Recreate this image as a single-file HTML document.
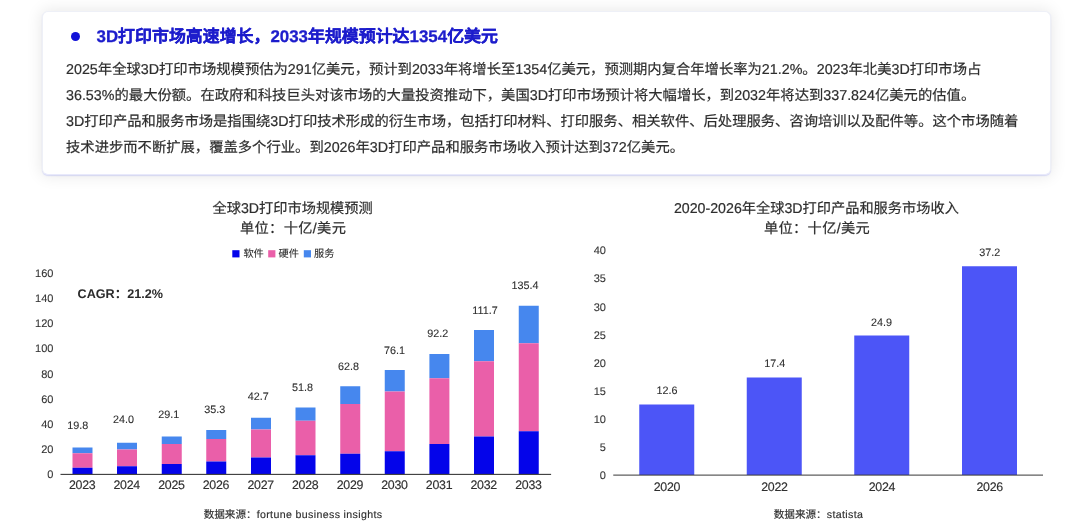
<!DOCTYPE html>
<html lang="zh-CN">
<head>
<meta charset="utf-8">
<title>3D打印市场</title>
<style>
html,body{margin:0;padding:0;}
body{width:1080px;height:522px;position:relative;overflow:hidden;background:#fff;
 font-family:"Liberation Sans",sans-serif;color:#333;}
.card{position:absolute;left:42px;top:11px;width:1007px;height:161.5px;border:1px solid #eef0f7;border-bottom-color:#e8e9fb;
 border-radius:6px;background:#fff;box-shadow:0 0 16px 1px rgba(0,0,0,0.095),0 1.2px 1.2px -0.3px rgba(170,175,250,0.38);}
.dot{position:absolute;left:70.6px;top:32.3px;width:9.2px;height:9.2px;border-radius:50%;background:#1212d8;}
svg{position:absolute;left:0;top:0;}
.txt{position:absolute;left:0;top:0;width:1080px;height:522px;will-change:transform;}
.t{position:absolute;white-space:nowrap;line-height:1.2;text-rendering:geometricPrecision;}
.jl{text-align:justify;text-align-last:justify;}
.hd{font-size:16.9px;font-weight:bold;color:#1d1dcc;-webkit-text-stroke:0.3px #1d1dcc;}
.bd{font-size:14.3px;color:#2e2e2e;-webkit-text-stroke:0.2px #2e2e2e;}
.ct{font-size:14.2px;color:#2e2e2e;-webkit-text-stroke:0.2px #2e2e2e;}
.lg{font-size:10.2px;color:#2e2e2e;-webkit-text-stroke:0.12px #2e2e2e;}
.yl{font-size:11px;color:#333;-webkit-text-stroke:0.1px #333;}
.xl{font-size:12.4px;color:#303030;letter-spacing:-0.25px;-webkit-text-stroke:0.15px #303030;}
.vl{font-size:10.8px;color:#2e2e2e;-webkit-text-stroke:0.1px #2e2e2e;}
.cagr{font-size:12.6px;font-weight:bold;color:#2b2b2b;}
.src{font-size:10.6px;color:#2e2e2e;-webkit-text-stroke:0.15px #2e2e2e;}
.ls{letter-spacing:0.37px;}
</style>
</head>
<body>
<div class="card"></div>
<div class="dot"></div>
<svg width="1080" height="522" viewBox="0 0 1080 522">
<rect x="72.5" y="447.5" width="20" height="5.75" fill="#4687ee"/>
<rect x="72.5" y="453.25" width="20" height="14.5" fill="#ea5fa9"/>
<rect x="72.5" y="467.75" width="20" height="6.25" fill="#0404ea"/>
<rect x="117" y="442.75" width="20" height="6.75" fill="#4687ee"/>
<rect x="117" y="449.5" width="20" height="16.75" fill="#ea5fa9"/>
<rect x="117" y="466.25" width="20" height="7.75" fill="#0404ea"/>
<rect x="161.75" y="436.5" width="20" height="7.5" fill="#4687ee"/>
<rect x="161.75" y="444" width="20" height="20" fill="#ea5fa9"/>
<rect x="161.75" y="464" width="20" height="10" fill="#0404ea"/>
<rect x="206.25" y="430" width="20" height="9" fill="#4687ee"/>
<rect x="206.25" y="439" width="20" height="22.5" fill="#ea5fa9"/>
<rect x="206.25" y="461.5" width="20" height="12.5" fill="#0404ea"/>
<rect x="251" y="417.75" width="20" height="11.75" fill="#4687ee"/>
<rect x="251" y="429.5" width="20" height="28" fill="#ea5fa9"/>
<rect x="251" y="457.5" width="20" height="16.5" fill="#0404ea"/>
<rect x="295.5" y="407.5" width="20" height="13.25" fill="#4687ee"/>
<rect x="295.5" y="420.75" width="20" height="34.5" fill="#ea5fa9"/>
<rect x="295.5" y="455.25" width="20" height="18.75" fill="#0404ea"/>
<rect x="340.25" y="386.25" width="20" height="17.75" fill="#4687ee"/>
<rect x="340.25" y="404" width="20" height="49.75" fill="#ea5fa9"/>
<rect x="340.25" y="453.75" width="20" height="20.25" fill="#0404ea"/>
<rect x="384.75" y="370" width="20" height="21.5" fill="#4687ee"/>
<rect x="384.75" y="391.5" width="20" height="59.75" fill="#ea5fa9"/>
<rect x="384.75" y="451.25" width="20" height="22.75" fill="#0404ea"/>
<rect x="429.4" y="354" width="20" height="24.25" fill="#4687ee"/>
<rect x="429.4" y="378.25" width="20" height="65.75" fill="#ea5fa9"/>
<rect x="429.4" y="444" width="20" height="30" fill="#0404ea"/>
<rect x="474" y="330" width="20" height="31.25" fill="#4687ee"/>
<rect x="474" y="361.25" width="20" height="75.25" fill="#ea5fa9"/>
<rect x="474" y="436.5" width="20" height="37.5" fill="#0404ea"/>
<rect x="518.75" y="305.75" width="20" height="37.5" fill="#4687ee"/>
<rect x="518.75" y="343.25" width="20" height="88" fill="#ea5fa9"/>
<rect x="518.75" y="431.25" width="20" height="42.75" fill="#0404ea"/>
<rect x="639.25" y="404.5" width="55" height="70.5" fill="#4c55f7"/>
<rect x="746.75" y="377.5" width="55" height="97.5" fill="#4c55f7"/>
<rect x="854.25" y="335.5" width="55" height="139.5" fill="#4c55f7"/>
<rect x="962" y="266.25" width="55" height="208.75" fill="#4c55f7"/>
<rect x="60.5" y="473.85" width="490.6" height="1.1" fill="#3a3a3a"/>
<rect x="613.25" y="474.6" width="429.75" height="1" fill="#383838"/>
<rect x="232.3" y="250.2" width="7.2" height="7.2" fill="#0404ea"/>
<rect x="268.2" y="250.2" width="7.2" height="7.2" fill="#ea5fa9"/>
<rect x="303.8" y="250.2" width="7.2" height="7.2" fill="#4687ee"/>
</svg>
<div class="txt">
<div class="t yl" style="top:275px;right:1026.6px;transform:translateY(-50%);">160</div>
<div class="t yl" style="top:300px;right:1026.6px;transform:translateY(-50%);">140</div>
<div class="t yl" style="top:325.1px;right:1026.6px;transform:translateY(-50%);">120</div>
<div class="t yl" style="top:350.4px;right:1026.6px;transform:translateY(-50%);">100</div>
<div class="t yl" style="top:375.5px;right:1026.6px;transform:translateY(-50%);">80</div>
<div class="t yl" style="top:400.5px;right:1026.6px;transform:translateY(-50%);">60</div>
<div class="t yl" style="top:425.75px;right:1026.6px;transform:translateY(-50%);">40</div>
<div class="t yl" style="top:451.25px;right:1026.6px;transform:translateY(-50%);">20</div>
<div class="t yl" style="top:476.25px;right:1026.6px;transform:translateY(-50%);">0</div>
<div class="t yl" style="top:252.4px;right:474.1px;transform:translateY(-50%);">40</div>
<div class="t yl" style="top:280.4px;right:474.1px;transform:translateY(-50%);">35</div>
<div class="t yl" style="top:308.6px;right:474.1px;transform:translateY(-50%);">30</div>
<div class="t yl" style="top:336.6px;right:474.1px;transform:translateY(-50%);">25</div>
<div class="t yl" style="top:364.9px;right:474.1px;transform:translateY(-50%);">20</div>
<div class="t yl" style="top:392.9px;right:474.1px;transform:translateY(-50%);">15</div>
<div class="t yl" style="top:421.1px;right:474.1px;transform:translateY(-50%);">10</div>
<div class="t yl" style="top:449px;right:474.1px;transform:translateY(-50%);">5</div>
<div class="t yl" style="top:476.75px;right:474.1px;transform:translateY(-50%);">0</div>
<div class="t vl" style="top:425.5px;left:77.75px;transform:translate(-50%,-50%);">19.8</div>
<div class="t vl" style="top:420.1px;left:123.4px;transform:translate(-50%,-50%);">24.0</div>
<div class="t vl" style="top:415.1px;left:168.75px;transform:translate(-50%,-50%);">29.1</div>
<div class="t vl" style="top:409.6px;left:214.75px;transform:translate(-50%,-50%);">35.3</div>
<div class="t vl" style="top:397.25px;left:258.2px;transform:translate(-50%,-50%);">42.7</div>
<div class="t vl" style="top:387.6px;left:302.5px;transform:translate(-50%,-50%);">51.8</div>
<div class="t vl" style="top:367.4px;left:348.4px;transform:translate(-50%,-50%);">62.8</div>
<div class="t vl" style="top:351px;left:394.4px;transform:translate(-50%,-50%);">76.1</div>
<div class="t vl" style="top:334px;left:437.75px;transform:translate(-50%,-50%);">92.2</div>
<div class="t vl" style="top:311.4px;left:485px;transform:translate(-50%,-50%);">111.7</div>
<div class="t vl" style="top:285.5px;left:525px;transform:translate(-50%,-50%);">135.4</div>
<div class="t vl" style="top:391.4px;left:667px;transform:translate(-50%,-50%);">12.6</div>
<div class="t vl" style="top:364.4px;left:774.75px;transform:translate(-50%,-50%);">17.4</div>
<div class="t vl" style="top:322.6px;left:881.6px;transform:translate(-50%,-50%);">24.9</div>
<div class="t vl" style="top:253.1px;left:989.75px;transform:translate(-50%,-50%);">37.2</div>
<div class="t xl" style="top:484.75px;left:82.2px;transform:translate(-50%,-50%);">2023</div>
<div class="t xl" style="top:484.75px;left:126.7px;transform:translate(-50%,-50%);">2024</div>
<div class="t xl" style="top:484.75px;left:171.45px;transform:translate(-50%,-50%);">2025</div>
<div class="t xl" style="top:484.75px;left:215.95px;transform:translate(-50%,-50%);">2026</div>
<div class="t xl" style="top:484.75px;left:260.7px;transform:translate(-50%,-50%);">2027</div>
<div class="t xl" style="top:484.75px;left:305.2px;transform:translate(-50%,-50%);">2028</div>
<div class="t xl" style="top:484.75px;left:349.95px;transform:translate(-50%,-50%);">2029</div>
<div class="t xl" style="top:484.75px;left:394.45px;transform:translate(-50%,-50%);">2030</div>
<div class="t xl" style="top:484.75px;left:439.1px;transform:translate(-50%,-50%);">2031</div>
<div class="t xl" style="top:484.75px;left:483.7px;transform:translate(-50%,-50%);">2032</div>
<div class="t xl" style="top:484.75px;left:528.45px;transform:translate(-50%,-50%);">2033</div>
<div class="t xl" style="top:487.4px;left:666.95px;transform:translate(-50%,-50%);">2020</div>
<div class="t xl" style="top:487.4px;left:774.45px;transform:translate(-50%,-50%);">2022</div>
<div class="t xl" style="top:487.4px;left:881.95px;transform:translate(-50%,-50%);">2024</div>
<div class="t xl" style="top:487.4px;left:989.7px;transform:translate(-50%,-50%);">2026</div>
<div class="t ct jl" style="top:209.55px;left:292.6px;transform:translate(-50%,-50%);width:160.3px;">全球3D打印市场规模预测</div>
<div class="t ct jl" style="top:230.3px;left:293.1px;transform:translate(-50%,-50%);letter-spacing:0.35px;width:106.2px;">单位：十亿/美元</div>
<div class="t ct jl" style="top:209.55px;left:816.4px;transform:translate(-50%,-50%);width:284.9px;">2020-2026年全球3D打印产品和服务市场收入</div>
<div class="t ct jl" style="top:230.3px;left:817px;transform:translate(-50%,-50%);letter-spacing:0.35px;width:106.2px;">单位：十亿/美元</div>
<div class="t lg" style="top:255.1px;left:243.4px;transform:translateY(-50%);">软件</div>
<div class="t lg" style="top:255.1px;left:278.6px;transform:translateY(-50%);">硬件</div>
<div class="t lg" style="top:255.1px;left:314.1px;transform:translateY(-50%);">服务</div>
<div class="t cagr" style="top:295.3px;left:77.6px;transform:translateY(-50%);">CAGR：21.2%</div>
<div class="t src" style="top:514.6px;left:293.1px;transform:translate(-50%,-50%);">数据来源：<span class="ls">fortune business insights</span></div>
<div class="t src" style="top:514.6px;left:818.5px;transform:translate(-50%,-50%);">数据来源：<span class="ls">statista</span></div>
<div class="t bd jl" style="top:70.5px;left:66px;transform:translateY(-50%);width:915.3px;">2025年全球3D打印市场规模预估为291亿美元，预计到2033年将增长至1354亿美元，预测期内复合年增长率为21.2%。2023年北美3D打印市场占</div>
<div class="t bd jl" style="top:97.15px;left:66px;transform:translateY(-50%);width:909.2px;">36.53%的最大份额。在政府和科技巨头对该市场的大量投资推动下，美国3D打印市场预计将大幅增长，到2032年将达到337.824亿美元的估值。</div>
<div class="t bd jl" style="top:122.8px;left:66px;transform:translateY(-50%);width:952.3px;">3D打印产品和服务市场是指围绕3D打印技术形成的衍生市场，包括打印材料、打印服务、相关软件、后处理服务、咨询培训以及配件等。这个市场随着</div>
<div class="t bd jl" style="top:149.45px;left:66px;transform:translateY(-50%);width:618.0px;">技术进步而不断扩展，覆盖多个行业。到2026年3D打印产品和服务市场收入预计达到372亿美元。</div>
<div class="t hd jl" style="top:36.9px;left:96.5px;transform:translateY(-50%);width:401.4px;">3D打印市场高速增长，2033年规模预计达1354亿美元</div>
</div>
</body>
</html>
